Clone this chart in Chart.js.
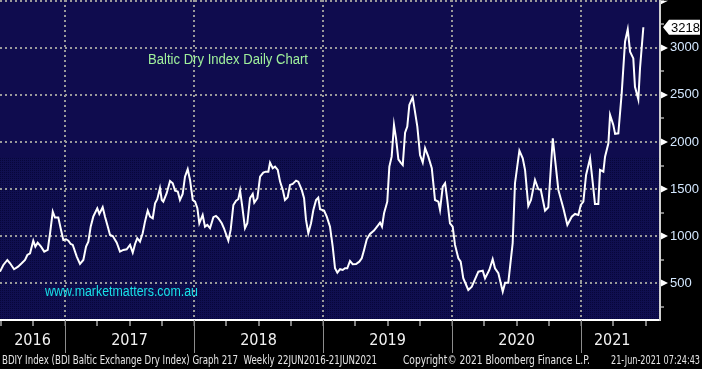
<!DOCTYPE html>
<html>
<head>
<meta charset="utf-8">
<script src="https://cdn.jsdelivr.net/npm/chart.js@4.4.1/dist/chart.umd.min.js"></script>
<style>
  html, body { margin: 0; padding: 0; background: #000; }
  #wrap { width: 702px; height: 369px; }
</style>
</head>
<body>
<div id="wrap"><canvas id="bdi" width="702" height="369"></canvas></div>
<script>
// weekly readings, x as decimal year
const dates = [
  2016.496, 2016.522, 2016.553, 2016.574, 2016.605, 2016.636, 2016.664, 2016.690, 2016.708, 2016.729,
  2016.754, 2016.770, 2016.788, 2016.814, 2016.839, 2016.866, 2016.884, 2016.905, 2016.922, 2016.948,
  2016.969, 2016.987, 2017.008, 2017.026, 2017.044, 2017.060, 2017.091, 2017.116, 2017.142, 2017.163,
  2017.181, 2017.199, 2017.219, 2017.250, 2017.266, 2017.292, 2017.310, 2017.328, 2017.349, 2017.370,
  2017.401, 2017.426, 2017.452, 2017.478, 2017.504, 2017.525, 2017.543, 2017.560, 2017.581, 2017.602,
  2017.620, 2017.641, 2017.659, 2017.680, 2017.698, 2017.715, 2017.736, 2017.750, 2017.762, 2017.788,
  2017.814, 2017.835, 2017.853, 2017.874, 2017.891, 2017.912, 2017.930, 2017.951, 2017.969, 2017.990,
  2018.008, 2018.026, 2018.041, 2018.067, 2018.085, 2018.103, 2018.124, 2018.150, 2018.170, 2018.188,
  2018.215, 2018.232, 2018.266, 2018.284, 2018.305, 2018.326, 2018.343, 2018.357, 2018.374, 2018.395,
  2018.413, 2018.434, 2018.455, 2018.467, 2018.491, 2018.512, 2018.537, 2018.556, 2018.576, 2018.589,
  2018.610, 2018.628, 2018.649, 2018.667, 2018.688, 2018.705, 2018.726, 2018.744, 2018.765, 2018.791,
  2018.808, 2018.835, 2018.853, 2018.868, 2018.886, 2018.907, 2018.925, 2018.946, 2018.963, 2018.977,
  2019.008, 2019.029, 2019.054, 2019.075, 2019.093, 2019.111, 2019.132, 2019.153, 2019.170, 2019.188,
  2019.209, 2019.230, 2019.256, 2019.281, 2019.300, 2019.318, 2019.339, 2019.364, 2019.395, 2019.429,
  2019.442, 2019.457, 2019.473, 2019.498, 2019.514, 2019.532, 2019.550, 2019.566, 2019.584, 2019.602,
  2019.618, 2019.636, 2019.653, 2019.669, 2019.695, 2019.731, 2019.752, 2019.773, 2019.791, 2019.816,
  2019.843, 2019.868, 2019.894, 2019.907, 2019.928, 2019.946, 2019.963, 2019.984, 2020.005, 2020.023,
  2020.049, 2020.067, 2020.087, 2020.126, 2020.153, 2020.204, 2020.238, 2020.256, 2020.289, 2020.315,
  2020.333, 2020.359, 2020.393, 2020.411, 2020.436, 2020.470, 2020.488, 2020.522, 2020.548, 2020.566,
  2020.591, 2020.612, 2020.643, 2020.669, 2020.688, 2020.721, 2020.746, 2020.781, 2020.824, 2020.863,
  2020.894, 2020.928, 2020.953, 2020.979, 2020.998, 2021.018, 2021.039, 2021.070, 2021.091, 2021.108,
  2021.134, 2021.147, 2021.173, 2021.186, 2021.212, 2021.225, 2021.250, 2021.264, 2021.289, 2021.315,
  2021.341, 2021.362, 2021.380, 2021.405, 2021.418, 2021.444, 2021.457, 2021.483
];

const bdi = [
  623, 694, 747, 712, 649, 676, 712, 747, 800, 818,
  952, 889, 931, 889, 836, 854, 1031, 1260, 1197, 1197,
  1066, 960, 967, 952, 917, 907, 783, 705, 747, 889,
  942, 1101, 1207, 1296, 1236, 1307, 1207, 1119, 1013, 1002,
  931, 836, 854, 861, 907, 825, 917, 978, 942, 1031,
  1154, 1271, 1207, 1190, 1349, 1392, 1509, 1384, 1366, 1456,
  1586, 1562, 1483, 1473, 1384, 1448, 1632, 1711, 1597, 1384,
  1366, 1296, 1137, 1225, 1101, 1119, 1084, 1201, 1215, 1190,
  1137, 1084, 952, 1066, 1331, 1377, 1392, 1483, 1313, 1084,
  1137, 1403, 1448, 1356, 1403, 1632, 1675, 1685, 1685, 1781,
  1721, 1738, 1703, 1579, 1491, 1384, 1413, 1544, 1555, 1590,
  1579, 1491, 1403, 1172, 1031, 1137, 1278, 1384, 1409, 1286,
  1271, 1207, 1101, 889, 659, 613, 649, 641, 659, 659,
  737, 702, 705, 729, 765, 854, 967, 1023, 1059, 1119,
  1144, 1101, 1243, 1366, 1738, 1844, 2181, 2039, 1816, 1781,
  1756, 2099, 2163, 2393, 2475, 2163, 1862, 1781, 1934, 1844,
  1721, 1384, 1366, 1278, 1526, 1562, 1384, 1137, 1101, 907,
  765, 729, 553, 429, 464, 623, 634, 553, 641, 755,
  659, 606, 411, 506, 506, 925, 1562, 1907, 1826, 1703,
  1321, 1384, 1597, 1498, 1491, 1271, 1307, 2039, 1491, 1296,
  1119, 1207, 1236, 1225, 1331, 1366, 1650, 1826, 1562, 1342,
  1342, 1703, 1685, 1844, 1986, 2287, 2181, 2086, 2092, 2515,
  3064, 3195, 2958, 2887, 2586, 2452, 2781, 3218
];

const years = [2016, 2017, 2018, 2019, 2020, 2021];
const labelledTicks = [500, 1000, 1500, 2000, 2500, 3000];

const titleText = "Baltic Dry Index Daily Chart";
const siteText = "www.marketmatters.com.au";
const footerLeft = "BDIY Index (BDI Baltic Exchange Dry Index) Graph 217  Weekly 22JUN2016-21JUN2021";
const footerMid = "Copyright\u00A9 2021 Bloomberg Finance L.P.";
const footerRight = "21-Jun-2021 07:24:43";

const NARROW = "'Liberation Sans Narrow', 'DejaVu Sans Condensed', sans-serif";
const SANS = "'Liberation Sans', Arial, sans-serif";
const GRID = "#9a9a9a";

// bloomberg style dotted lower half
const dotTile = document.createElement("canvas");
dotTile.width = 2;
dotTile.height = 2;
(function () {
  const c = dotTile.getContext("2d");
  c.fillStyle = "#100f50";
  c.fillRect(0, 0, 2, 2);
  c.fillStyle = "#07063a";
  c.fillRect(0, 0, 1, 1);
})();

const decor = {
  id: "decor",
  beforeDraw(chart) {
    const { ctx, chartArea: a } = chart;
    ctx.save();
    ctx.fillStyle = "#000";
    ctx.fillRect(0, 0, chart.width, chart.height);
    const split = a.top + Math.round((a.bottom - a.top) * 0.494);
    ctx.fillStyle = "#0f0c4e";
    ctx.fillRect(a.left, a.top, a.right - a.left, split - a.top);
    ctx.fillStyle = ctx.createPattern(dotTile, "repeat");
    ctx.fillRect(a.left, split, a.right - a.left, a.bottom - split);
    ctx.restore();
  },
  afterDraw(chart) {
    const { ctx, chartArea: a } = chart;
    const xs = chart.scales.x;
    const ys = chart.scales.y;
    ctx.save();

    // pointer triangles on the labelled ticks
    ctx.fillStyle = "#ffffff";
    labelledTicks.forEach(v => {
      const y = Math.round(ys.getPixelForValue(v));
      ctx.beginPath();
      ctx.moveTo(a.right + 1, y - 3.5);
      ctx.lineTo(a.right + 8, y);
      ctx.lineTo(a.right + 1, y + 3.5);
      ctx.closePath();
      ctx.fill();
    });
    const top = ys.getPixelForValue(3500);
    ctx.beginPath();
    ctx.moveTo(a.right + 1, top);
    ctx.lineTo(a.right + 8, top);
    ctx.lineTo(a.right + 1, top + 3.5);
    ctx.fill();

    // last value tag
    const last = bdi[bdi.length - 1];
    const ly = ys.getPixelForValue(last);
    ctx.fillStyle = "#ffffff";
    ctx.beginPath();
    ctx.moveTo(a.right + 3, ly);
    ctx.lineTo(a.right + 9, ly - 7.5);
    ctx.lineTo(chart.width - 2, ly - 7.5);
    ctx.lineTo(chart.width - 2, ly + 7.5);
    ctx.lineTo(a.right + 9, ly + 7.5);
    ctx.closePath();
    ctx.fill();
    ctx.fillStyle = "#000";
    ctx.font = "13px " + SANS;
    ctx.textAlign = "left";
    ctx.textBaseline = "middle";
    ctx.fillText(String(last), a.right + 11, ly + 1);

    // year separators below the axis
    ctx.strokeStyle = "#8c8c8c";
    ctx.lineWidth = 1;
    years.slice(1).forEach(yr => {
      const x = Math.round(xs.getPixelForValue(yr)) + 0.5;
      ctx.beginPath();
      ctx.moveTo(x, a.bottom);
      ctx.lineTo(x, a.bottom + 33);
      ctx.stroke();
    });

    // year labels centred on the span of data in each year
    ctx.fillStyle = "#f2f2f2";
    ctx.font = "16px " + NARROW;
    ctx.textAlign = "center";
    ctx.textBaseline = "middle";
    const first = dates[0], end = dates[dates.length - 1];
    years.forEach(yr => {
      const s = Math.max(yr, first), e = Math.min(yr + 1, end);
      const x = (xs.getPixelForValue(s) + xs.getPixelForValue(e)) / 2;
      ctx.fillText(String(yr), x, a.bottom + 21);
    });

    // footer
    ctx.fillStyle = "#e6e6e6";
    ctx.font = "12px " + NARROW;
    ctx.textAlign = "left";
    ctx.textBaseline = "alphabetic";
    ctx.fillText(footerLeft, 2, 364, 375);
    ctx.fillText(footerMid, 403, 364, 187);
    ctx.fillText(footerRight, 611, 364, 89);

    // chart annotations
    ctx.font = "14px " + SANS;
    ctx.fillStyle = "#a0f09c";
    ctx.textBaseline = "middle";
    ctx.fillText(titleText, 148, 60, 160);
    ctx.fillStyle = "#18e0e8";
    ctx.fillText(siteText, 45, 292, 153);

    ctx.restore();
  }
};

const quarterTicks = [];
for (let q = 2016.5; q <= 2021.5; q += 0.25) quarterTicks.push({ value: q });
const bdiTicks = [];
for (let v = 250; v <= 3500; v += 250) bdiTicks.push({ value: v });

new Chart(document.getElementById("bdi"), {
  type: "line",
  data: {
    datasets: [{
      data: dates.map((d, i) => ({ x: d, y: bdi[i] })),
      borderColor: "#ffffff",
      borderWidth: 2,
      pointRadius: 0,
      tension: 0
    }]
  },
  options: {
    responsive: false,
    animation: false,
    layout: { padding: 0 },
    plugins: { legend: { display: false }, tooltip: { enabled: false } },
    scales: {
      x: {
        type: "linear",
        min: 2016.496,
        max: 2021.612,
        afterBuildTicks: s => { s.ticks = quarterTicks.map(t => ({ ...t })); },
        afterFit: s => { s.height = 49; s.paddingLeft = 0; s.paddingRight = 0; },
        ticks: { display: false },
        grid: {
          color: c => (c.tick && Number.isInteger(c.tick.value)) ? GRID : "transparent",
          lineWidth: 2,
          tickColor: c => (c.tick && Number.isInteger(c.tick.value)) ? "#8c8c8c" : "#ffffff",
          tickLength: 6,
          tickWidth: 1
        },
        border: { display: true, color: "#ffffff", width: 2, dash: [2, 3] }
      },
      y: {
        position: "right",
        min: 110,
        max: 3507,
        afterBuildTicks: s => { s.ticks = bdiTicks.map(t => ({ ...t })); },
        afterFit: s => { s.width = 42; s.paddingTop = 0; s.paddingBottom = 0; },
        ticks: {
          callback: v => labelledTicks.includes(v) ? String(v) : "",
          color: "#d4e8ff",
          font: { family: SANS, size: 13 },
          padding: 6
        },
        grid: {
          color: c => (c.tick && c.tick.value % 500 === 0) ? GRID : "transparent",
          lineWidth: 2,
          tickColor: "#ffffff",
          tickLength: 4,
          tickWidth: 1
        },
        border: { display: true, color: "#cfcfcf", width: 2, dash: [2, 3] }
      }
    }
  },
  plugins: [decor]
});
</script>
</body>
</html>
